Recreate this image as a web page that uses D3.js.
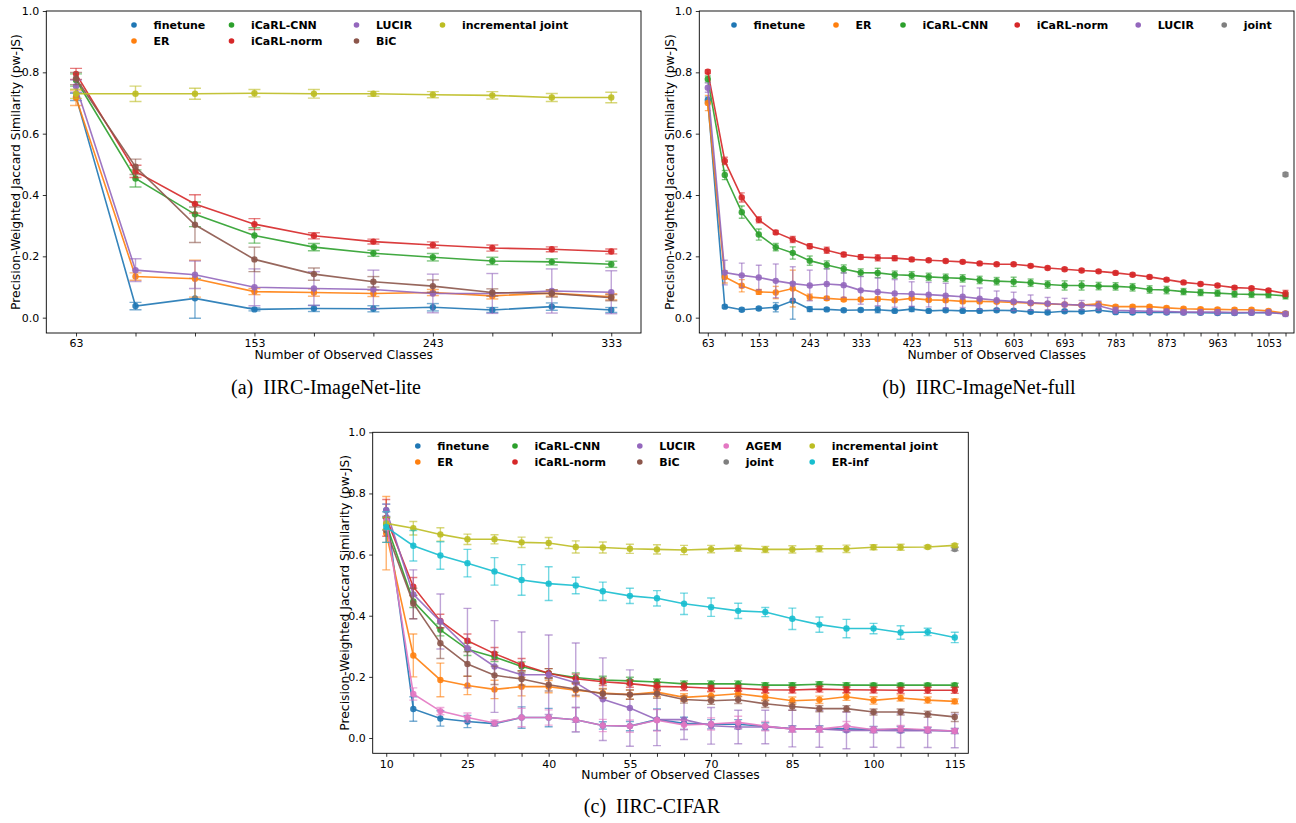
<!DOCTYPE html>
<html><head><meta charset="utf-8">
<script src="https://cdn.jsdelivr.net/npm/d3@7"></script>
<style>body{margin:0;background:#fff} svg{display:block}</style>
</head><body><svg id="chart" width="1296" height="823"></svg>
<script>
// ---------- (a) IIRC-ImageNet-lite ----------
const liteX = [63,93,123,153,183,213,243,273,303,333];
const liteXLabels = [63,153,243,333];
const liteFinetune = [0.72,0.038,0.063,0.027,0.03,0.029,0.034,0.025,0.036,0.025];
const liteFinetuneErr = [0.012,0.012,0.065,0.005,0.01,0.01,0.012,0.008,0.012,0.008];
const liteER = [0.717,0.134,0.127,0.085,0.082,0.079,0.082,0.071,0.08,0.068];
const liteERErr = [0.025,0.012,0.06,0.01,0.012,0.01,0.01,0.01,0.01,0.01];
const liteCNN = [0.775,0.454,0.337,0.268,0.23,0.21,0.197,0.185,0.182,0.174];
const liteCNNErr = [0.02,0.028,0.04,0.025,0.012,0.01,0.012,0.012,0.01,0.01];
const liteNorm = [0.795,0.477,0.371,0.305,0.267,0.248,0.237,0.227,0.223,0.216];
const liteNormErr = [0.018,0.02,0.03,0.018,0.01,0.008,0.01,0.01,0.008,0.008];
const liteLUCIR = [0.755,0.155,0.14,0.099,0.095,0.092,0.079,0.079,0.087,0.083];
const liteLUCIRErr = [0.02,0.037,0.045,0.06,0.055,0.063,0.063,0.065,0.072,0.07];
const liteBiC = [0.78,0.492,0.303,0.19,0.142,0.117,0.103,0.082,0.079,0.065];
const liteBiCErr = [0.02,0.025,0.058,0.04,0.02,0.017,0.02,0.012,0.012,0.01];
const liteIncJoint = [0.73,0.73,0.73,0.732,0.73,0.73,0.727,0.725,0.718,0.718];
const liteIncJointErr = [0.015,0.025,0.018,0.012,0.014,0.008,0.01,0.012,0.013,0.017];

// ---------- (b) IIRC-ImageNet-full ----------
const fullX = [63,93,123,153,183,213,243,273,303,333,363,393,423,453,483,513,543,573,603,633,663,693,723,753,783,813,843,873,903,933,963,993,1023,1053,1083];
const fullXLabels = [63,153,243,333,423,513,603,693,783,873,963,1053];
const fullFinetune = [0.71,0.036,0.026,0.03,0.034,0.055,0.028,0.027,0.024,0.025,0.026,0.022,0.028,0.022,0.024,0.022,0.022,0.024,0.023,0.019,0.017,0.021,0.02,0.024,0.018,0.017,0.017,0.017,0.017,0.016,0.015,0.015,0.016,0.017,0.013];
const fullFinetuneErr = [0.01,0.005,0.005,0.005,0.015,0.06,0.008,0.005,0.005,0.005,0.01,0.005,0.008,0.005,0.005,0.005,0.005,0.005,0.005,0.005,0.005,0.005,0.005,0.005,0.005,0.005,0.005,0.005,0.005,0.005,0.005,0.005,0.005,0.005,0.005];
const fullER = [0.70,0.133,0.104,0.084,0.082,0.095,0.067,0.063,0.059,0.059,0.061,0.057,0.063,0.058,0.057,0.053,0.053,0.052,0.05,0.047,0.045,0.043,0.041,0.045,0.036,0.036,0.036,0.032,0.029,0.028,0.027,0.026,0.026,0.022,0.014];
const fullERErr = [0.025,0.02,0.02,0.008,0.02,0.06,0.01,0.006,0.005,0.005,0.006,0.005,0.005,0.005,0.005,0.005,0.005,0.005,0.005,0.005,0.005,0.005,0.005,0.005,0.005,0.005,0.005,0.005,0.005,0.005,0.005,0.005,0.005,0.005,0.005];
const fullCNN = [0.778,0.465,0.344,0.271,0.23,0.211,0.186,0.172,0.159,0.147,0.146,0.14,0.138,0.133,0.13,0.128,0.123,0.119,0.117,0.114,0.108,0.105,0.105,0.103,0.102,0.099,0.092,0.09,0.085,0.082,0.08,0.077,0.076,0.075,0.071];
const fullCNNErr = [0.01,0.015,0.02,0.018,0.012,0.02,0.015,0.013,0.013,0.012,0.015,0.012,0.012,0.012,0.012,0.012,0.012,0.012,0.015,0.012,0.012,0.015,0.015,0.012,0.012,0.012,0.012,0.012,0.01,0.01,0.01,0.01,0.01,0.01,0.01];
const fullNorm = [0.802,0.511,0.392,0.319,0.278,0.255,0.233,0.22,0.206,0.198,0.195,0.194,0.19,0.187,0.185,0.182,0.177,0.174,0.174,0.169,0.162,0.158,0.154,0.151,0.146,0.14,0.133,0.124,0.115,0.11,0.105,0.098,0.096,0.089,0.079];
const fullNormErr = [0.006,0.012,0.015,0.01,0.006,0.01,0.008,0.01,0.007,0.007,0.01,0.008,0.006,0.005,0.005,0.005,0.005,0.005,0.005,0.005,0.005,0.005,0.005,0.005,0.005,0.005,0.005,0.005,0.005,0.005,0.005,0.005,0.005,0.005,0.01];
const fullLUCIR = [0.75,0.147,0.138,0.131,0.12,0.111,0.105,0.11,0.106,0.089,0.084,0.079,0.077,0.075,0.072,0.068,0.062,0.057,0.053,0.049,0.046,0.043,0.041,0.039,0.024,0.022,0.021,0.02,0.018,0.018,0.018,0.017,0.017,0.017,0.012];
const fullLUCIRErr = [0.015,0.04,0.04,0.04,0.055,0.055,0.05,0.05,0.04,0.045,0.045,0.045,0.04,0.04,0.04,0.035,0.035,0.03,0.03,0.025,0.02,0.02,0.015,0.015,0.01,0.008,0.008,0.008,0.008,0.008,0.008,0.008,0.008,0.008,0.008];
const fullJointX = [1083];
const fullJoint = [0.467];
const fullJointErr = [0.006];

// ---------- (c) IIRC-CIFAR ----------
const cifarX = [10,15,20,25,30,35,40,45,50,55,60,65,70,75,80,85,90,95,100,105,110,115];
const cifarXLabels = [10,25,40,55,70,85,100,115];
const cifarFinetune = [0.745,0.095,0.064,0.054,0.047,0.067,0.067,0.06,0.041,0.039,0.06,0.048,0.045,0.045,0.038,0.03,0.03,0.03,0.028,0.028,0.026,0.023];
const cifarFinetuneErr = [0.02,0.04,0.025,0.02,0.006,0.035,0.03,0.04,0.012,0.015,0.035,0.02,0.015,0.015,0.012,0.01,0.01,0.01,0.01,0.01,0.008,0.008];
const cifarER = [0.67,0.27,0.19,0.172,0.159,0.168,0.168,0.156,0.147,0.142,0.15,0.133,0.138,0.145,0.134,0.122,0.125,0.135,0.123,0.131,0.124,0.12];
const cifarERErr = [0.12,0.07,0.055,0.03,0.03,0.03,0.02,0.02,0.015,0.015,0.015,0.012,0.012,0.01,0.012,0.012,0.012,0.012,0.012,0.01,0.01,0.008];
const cifarCNN = [0.70,0.447,0.354,0.29,0.265,0.234,0.212,0.198,0.19,0.187,0.183,0.177,0.177,0.177,0.173,0.173,0.176,0.173,0.173,0.173,0.173,0.173];
const cifarCNNErr = [0.02,0.02,0.02,0.02,0.015,0.015,0.015,0.015,0.012,0.012,0.01,0.01,0.01,0.01,0.008,0.008,0.008,0.008,0.006,0.006,0.006,0.006];
const cifarNorm = [0.72,0.495,0.383,0.318,0.276,0.24,0.212,0.194,0.184,0.178,0.169,0.167,0.163,0.163,0.158,0.157,0.16,0.158,0.157,0.156,0.156,0.156];
const cifarNormErr = [0.06,0.03,0.022,0.022,0.02,0.02,0.015,0.015,0.012,0.012,0.012,0.012,0.01,0.01,0.01,0.01,0.01,0.01,0.01,0.01,0.01,0.01];
const cifarLUCIR = [0.745,0.47,0.381,0.294,0.234,0.207,0.207,0.181,0.127,0.098,0.06,0.06,0.04,0.036,0.036,0.031,0.03,0.025,0.025,0.024,0.024,0.023];
const cifarLUCIRErr = [0.02,0.08,0.09,0.13,0.15,0.14,0.13,0.13,0.135,0.125,0.085,0.065,0.06,0.055,0.055,0.06,0.06,0.06,0.055,0.055,0.055,0.055];
const cifarBiC = [0.68,0.44,0.31,0.242,0.205,0.193,0.174,0.16,0.145,0.142,0.145,0.126,0.122,0.125,0.112,0.103,0.096,0.096,0.085,0.085,0.078,0.069];
const cifarBiCErr = [0.04,0.05,0.05,0.04,0.03,0.02,0.02,0.02,0.015,0.015,0.015,0.012,0.012,0.012,0.012,0.012,0.01,0.01,0.01,0.01,0.01,0.015];
const cifarAGEM = [0.71,0.144,0.088,0.067,0.049,0.067,0.067,0.06,0.041,0.039,0.058,0.043,0.046,0.051,0.039,0.029,0.029,0.039,0.027,0.031,0.027,0.023];
const cifarAGEMErr = [0.03,0.02,0.012,0.015,0.01,0.03,0.025,0.04,0.02,0.02,0.035,0.015,0.02,0.02,0.015,0.01,0.01,0.015,0.01,0.01,0.01,0.008];
const cifarJointX = [115];
const cifarJoint = [0.618];
const cifarJointErr = [0.005];
const cifarIncJoint = [0.702,0.686,0.666,0.65,0.65,0.64,0.638,0.625,0.623,0.619,0.617,0.615,0.618,0.621,0.617,0.617,0.619,0.619,0.624,0.624,0.625,0.63];
const cifarIncJointErr = [0.02,0.022,0.022,0.017,0.015,0.017,0.018,0.02,0.018,0.015,0.015,0.015,0.012,0.01,0.01,0.012,0.01,0.012,0.008,0.01,0.005,0.005];
const cifarERinf = [0.69,0.629,0.597,0.572,0.545,0.517,0.505,0.499,0.48,0.465,0.457,0.439,0.428,0.416,0.412,0.39,0.371,0.358,0.358,0.345,0.347,0.329];
const cifarERinfErr = [0.05,0.05,0.045,0.045,0.045,0.05,0.055,0.027,0.03,0.025,0.025,0.035,0.03,0.025,0.015,0.035,0.025,0.03,0.017,0.022,0.012,0.017];

const yTicks = [0.0,0.2,0.4,0.6,0.8,1.0];
const yLabel = "Precision-Weighted Jaccard Similarity (pw-JS)";
const xLabel = "Number of Observed Classes";

const COLORS = {
  "finetune":"#1f77b4","ER":"#ff7f0e","iCaRL-CNN":"#2ca02c","iCaRL-norm":"#d62728",
  "LUCIR":"#9467bd","BiC":"#8c564b","AGEM":"#e377c2","joint":"#7f7f7f",
  "incremental joint":"#bcbd22","ER-inf":"#17becf"
};
const FONT = "'DejaVu Sans', sans-serif";
const svg = d3.select("#chart");

function drawPanel(o) {
  const g = svg.append("g");
  const x = d3.scaleLinear().domain(o.xDomain).range([o.left, o.right]);
  const y = d3.scaleLinear().domain([-0.05, 1.0]).range([o.bottom, o.top]);

  // axes
  const xa = d3.axisBottom(x).tickValues(o.xTicks).tickSize(3.5).tickPadding(3)
    .tickFormat(d => o.xLabels.includes(d) ? String(d) : "");
  g.append("g").attr("transform", `translate(0,${o.bottom})`).call(xa)
    .call(s => {
      s.select(".domain").remove();
      s.selectAll("line").attr("stroke", "#000").attr("stroke-width", 0.8);
      s.selectAll("text").attr("font-family", FONT).attr("font-size", o.xFont).attr("fill", "#000");
    });
  const ya = d3.axisLeft(y).tickValues(yTicks).tickSize(3.5).tickPadding(3.5).tickFormat(d3.format(".1f"));
  g.append("g").attr("transform", `translate(${o.left},0)`).call(ya)
    .call(s => {
      s.select(".domain").remove();
      s.selectAll("line").attr("stroke", "#000").attr("stroke-width", 0.8);
      s.selectAll("text").attr("font-family", FONT).attr("font-size", 11).attr("fill", "#000");
    });

  const clipId = "clip" + o.id;
  svg.append("clipPath").attr("id", clipId).append("rect")
    .attr("x", o.left).attr("y", o.top).attr("width", o.right - o.left).attr("height", o.bottom - o.top);
  const plot = g.append("g").attr("clip-path", `url(#${clipId})`);

  const line = d3.line().x(d => x(d.x)).y(d => y(d.v));
  o.series.forEach(s => {
    const col = COLORS[s.name];
    const pts = s.xs.map((xv, i) => ({x: xv, v: s.v[i], e: s.e[i]}));
    const sg = plot.append("g");
    const eg = sg.append("g").attr("stroke", col).attr("stroke-opacity", 0.6).attr("stroke-width", 1.4);
    pts.forEach(p => {
      const cx = x(p.x), y1 = y(p.v - p.e), y2 = y(p.v + p.e);
      eg.append("line").attr("x1", cx).attr("x2", cx).attr("y1", y1).attr("y2", y2);
      eg.append("line").attr("x1", cx - o.cap).attr("x2", cx + o.cap).attr("y1", y1).attr("y2", y1);
      eg.append("line").attr("x1", cx - o.cap).attr("x2", cx + o.cap).attr("y1", y2).attr("y2", y2);
    });
    if (pts.length > 1) {
      sg.append("path").datum(pts).attr("d", line).attr("fill", "none")
        .attr("stroke", col).attr("stroke-width", 1.6).attr("stroke-opacity", 0.9);
    }
    sg.selectAll("circle").data(pts).join("circle")
      .attr("cx", d => x(d.x)).attr("cy", d => y(d.v)).attr("r", 3.2)
      .attr("fill", col).attr("fill-opacity", 0.9);
  });

  g.append("rect").attr("x", o.left).attr("y", o.top)
    .attr("width", o.right - o.left).attr("height", o.bottom - o.top)
    .attr("fill", "none").attr("stroke", "#000").attr("stroke-width", 0.9);

  // labels
  g.append("text").attr("transform", `translate(${o.yLabX},${(o.top + o.bottom) / 2}) rotate(-90)`)
    .attr("text-anchor", "middle").attr("dominant-baseline", "central")
    .attr("font-family", FONT).attr("font-size", 12.3).text(yLabel);
  g.append("text").attr("x", (o.left + o.right) / 2).attr("y", o.bottom + 22)
    .attr("text-anchor", "middle").attr("dominant-baseline", "central")
    .attr("font-family", FONT).attr("font-size", 12.3).text(xLabel);

  // legend
  o.legend.forEach(l => {
    g.append("circle").attr("cx", l.tx - 19.5).attr("cy", l.ty).attr("r", 2.8).attr("fill", COLORS[l.name]);
    g.append("text").attr("x", l.tx).attr("y", l.ty).attr("dominant-baseline", "central")
      .attr("font-family", FONT).attr("font-weight", "bold").attr("font-size", 11).text(l.name);
  });

  // caption
  g.append("text").attr("x", o.capX).attr("y", o.capY).attr("text-anchor", "middle")
    .attr("dominant-baseline", "central").attr("font-family", "'Liberation Serif', 'Times New Roman', serif")
    .attr("font-size", 20).attr("xml:space", "preserve").text(o.caption);
}

drawPanel({
  id: "a", left: 46.3, right: 641, top: 11, bottom: 333, xDomain: [48, 348],
  xTicks: liteX, xLabels: liteXLabels, xFont: 11, cap: 6, yLabX: 16,
  caption: "(a)\u00a0\u00a0IIRC-ImageNet-lite", capX: 326, capY: 387,
  series: [
    {name: "finetune", xs: liteX, v: liteFinetune, e: liteFinetuneErr},
    {name: "ER", xs: liteX, v: liteER, e: liteERErr},
    {name: "iCaRL-CNN", xs: liteX, v: liteCNN, e: liteCNNErr},
    {name: "iCaRL-norm", xs: liteX, v: liteNorm, e: liteNormErr},
    {name: "LUCIR", xs: liteX, v: liteLUCIR, e: liteLUCIRErr},
    {name: "BiC", xs: liteX, v: liteBiC, e: liteBiCErr},
    {name: "incremental joint", xs: liteX, v: liteIncJoint, e: liteIncJointErr}
  ],
  legend: [
    {name: "finetune", tx: 153.5, ty: 25}, {name: "ER", tx: 153.5, ty: 41},
    {name: "iCaRL-CNN", tx: 251, ty: 25}, {name: "iCaRL-norm", tx: 251, ty: 41},
    {name: "LUCIR", tx: 376, ty: 25}, {name: "BiC", tx: 376, ty: 41},
    {name: "incremental joint", tx: 462, ty: 25}
  ]
});

drawPanel({
  id: "b", left: 699.3, right: 1294, top: 11, bottom: 333, xDomain: [48, 1098],
  xTicks: fullX, xLabels: fullXLabels, xFont: 10, cap: 3, yLabX: 670,
  caption: "(b)\u00a0\u00a0IIRC-ImageNet-full", capX: 979, capY: 387,
  series: [
    {name: "finetune", xs: fullX, v: fullFinetune, e: fullFinetuneErr},
    {name: "ER", xs: fullX, v: fullER, e: fullERErr},
    {name: "iCaRL-CNN", xs: fullX, v: fullCNN, e: fullCNNErr},
    {name: "iCaRL-norm", xs: fullX, v: fullNorm, e: fullNormErr},
    {name: "LUCIR", xs: fullX, v: fullLUCIR, e: fullLUCIRErr},
    {name: "joint", xs: fullJointX, v: fullJoint, e: fullJointErr}
  ],
  legend: [
    {name: "finetune", tx: 753.5, ty: 25}, {name: "ER", tx: 855.5, ty: 25},
    {name: "iCaRL-CNN", tx: 922.5, ty: 25}, {name: "iCaRL-norm", tx: 1036.7, ty: 25},
    {name: "LUCIR", tx: 1157.7, ty: 25}, {name: "joint", tx: 1243.7, ty: 25}
  ]
});

drawPanel({
  id: "c", left: 372.7, right: 968.3, top: 432.3, bottom: 753.3, xDomain: [7.5, 117.5],
  xTicks: cifarX, xLabels: cifarXLabels, xFont: 11, cap: 4, yLabX: 345,
  caption: "(c)\u00a0\u00a0IIRC-CIFAR", capX: 652, capY: 806,
  series: [
    {name: "finetune", xs: cifarX, v: cifarFinetune, e: cifarFinetuneErr},
    {name: "ER", xs: cifarX, v: cifarER, e: cifarERErr},
    {name: "iCaRL-CNN", xs: cifarX, v: cifarCNN, e: cifarCNNErr},
    {name: "iCaRL-norm", xs: cifarX, v: cifarNorm, e: cifarNormErr},
    {name: "LUCIR", xs: cifarX, v: cifarLUCIR, e: cifarLUCIRErr},
    {name: "BiC", xs: cifarX, v: cifarBiC, e: cifarBiCErr},
    {name: "AGEM", xs: cifarX, v: cifarAGEM, e: cifarAGEMErr},
    {name: "joint", xs: cifarJointX, v: cifarJoint, e: cifarJointErr},
    {name: "incremental joint", xs: cifarX, v: cifarIncJoint, e: cifarIncJointErr},
    {name: "ER-inf", xs: cifarX, v: cifarERinf, e: cifarERinfErr}
  ],
  legend: [
    {name: "finetune", tx: 437.3, ty: 446}, {name: "ER", tx: 437.3, ty: 462},
    {name: "iCaRL-CNN", tx: 534.5, ty: 446}, {name: "iCaRL-norm", tx: 534.5, ty: 462},
    {name: "LUCIR", tx: 659.3, ty: 446}, {name: "BiC", tx: 659.3, ty: 462},
    {name: "AGEM", tx: 745.7, ty: 446}, {name: "joint", tx: 745.7, ty: 462},
    {name: "incremental joint", tx: 831.7, ty: 446}, {name: "ER-inf", tx: 831.7, ty: 462}
  ]
});
</script>
</body></html>
